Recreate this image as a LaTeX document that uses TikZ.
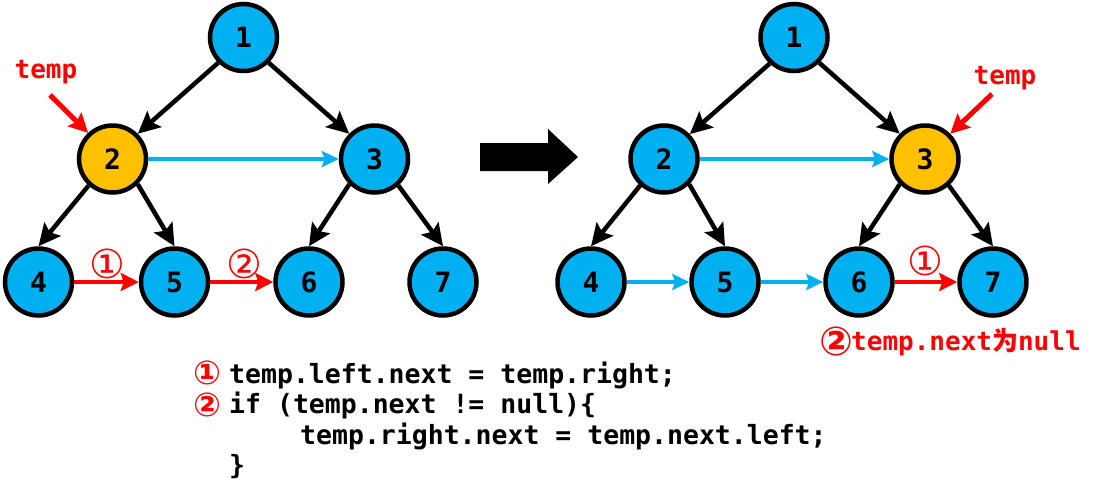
\documentclass[tikz,border=0pt]{standalone}
\usepackage{fontspec}
\setmonofont{DejaVu Sans Mono}
\newfontfamily\circf{DejaVu Sans}
\newfontfamily\cjkf{Noto Sans CJK SC}
\usetikzlibrary{arrows.meta}
\definecolor{cblue}{HTML}{00B0F0}
\definecolor{cgold}{HTML}{FFC000}
\definecolor{cred}{HTML}{FF0000}
\begin{document}
\begin{tikzpicture}[x=1pt,y=-1pt,
  tn/.style={circle, draw=black, line width=4.5pt, minimum size=67pt, inner sep=0pt, fill=cblue,
    font=\ttfamily\bfseries\fontsize{28}{28}\selectfont},
  hl/.style={tn, fill=cgold},
  tedge/.style={-{Stealth[length=22pt,width=21pt,inset=4pt]}, line width=4.5pt, black},
  bedge/.style={-{Stealth[length=17pt,width=16pt,inset=3pt]}, line width=3.5pt, cblue},
  redge/.style={-{Stealth[length=18pt,width=18pt,inset=3pt]}, line width=4.5pt, cred},
  rptr/.style={-{Stealth[length=19pt,width=19pt,inset=3pt]}, line width=5pt, cred},
  tlab/.style={text=cred, font=\ttfamily\bfseries\fontsize{26}{26}\selectfont, inner sep=0pt},
  clab/.style={text=cred, font=\circf\fontsize{40}{40}\selectfont, inner sep=0pt},
  ccode/.style={text=cred, font=\circf\bfseries\fontsize{33}{33}\selectfont, inner sep=0pt},
  code/.style={text=black, font=\ttfamily\bfseries\fontsize{26.5}{26.5}\selectfont, inner sep=0pt, anchor=base west}
]
\useasboundingbox[fill=white] (0,0) rectangle (1112,501);

% ---------- left tree ----------
\node[tn] (a1) at (243.5,37.5) {1};
\node[hl] (a2) at (112.5,159) {2};
\node[tn] (a3) at (374.5,159) {3};
\node[tn] (a4) at (38.5,282) {4};
\node[tn] (a5) at (174.5,282) {5};
\node[tn] (a6) at (309,282) {6};
\node[tn] (a7) at (443,282) {7};
\draw[tedge] (a1.225) -- (a2.45);
\draw[tedge] (a1.315) -- (a3.135);
\draw[tedge] (a2.228) -- (a4.north);
\draw[tedge] (a2.315) -- (a5.north);
\draw[tedge] (a3.225) -- (a6.north);
\draw[tedge] (a3.312) -- (a7.north);
\draw[bedge] (a2.east) -- (a3.west);
\draw[redge] (a4.east) -- (a5.west);
\draw[redge] (a5.east) -- (a6.west);
\node[clab] (l1) at (107.5,264) {①};
\node[clab] (l2) at (244.5,264) {②};
\node[tlab] (ta) at (46,72) {temp};
\coordinate (pa) at (50,95);
\draw[rptr] (pa) -- (a2.133);

% ---------- big arrow ----------
\fill[black] (480,143) -- (548,143) -- (548,129) -- (578,157) -- (548,184) -- (548,171) -- (480,171) -- cycle;

% ---------- right tree ----------
\node[tn] (b1) at (794,37.5) {1};
\node[tn] (b2) at (664,159) {2};
\node[hl] (b3) at (925,159) {3};
\node[tn] (b4) at (591,282) {4};
\node[tn] (b5) at (725,282) {5};
\node[tn] (b6) at (859,282) {6};
\node[tn] (b7) at (993,282) {7};
\draw[tedge] (b1.227) -- (b2.44);
\draw[tedge] (b1.315) -- (b3.135);
\draw[tedge] (b2.228) -- (b4.north);
\draw[tedge] (b2.315) -- (b5.north);
\draw[tedge] (b3.225) -- (b6.north);
\draw[tedge] (b3.312) -- (b7.north);
\draw[bedge] (b2.east) -- (b3.west);
\draw[bedge] (b4.east) -- (b5.west);
\draw[bedge] (b5.east) -- (b6.west);
\draw[redge] (b6.east) -- (b7.west);
\node[clab] (l3) at (925,261) {①};
\node[tlab] (tb) at (1005,78) {temp};
\coordinate (pb) at (992,94);
\draw[rptr] (pb) -- (b3.45);

\node[text=cred, inner sep=0pt, font=\circf\bfseries\fontsize{40}{40}\selectfont] (nc) at (836.5,341) {②};
\node[text=cred, inner sep=0pt, anchor=base west,
  font=\ttfamily\bfseries\fontsize{26}{26}\selectfont] (nl) at (851,350)
  {temp.next{\cjkf\bfseries 为}null};

% ---------- code ----------
\node[ccode] (k1) at (207.5,373) {①};
\node[code] (c1) at (229,383) {temp.left.next = temp.right;};
\node[ccode] (k2) at (207.5,404.5) {②};
\node[code] (c2) at (229,413) {if (temp.next != null)\{};
\node[code] (c3) at (300,444) {temp.right.next = temp.next.left;};
\node[code] (c4) at (229,474) {\}};
\end{tikzpicture}
\end{document}
